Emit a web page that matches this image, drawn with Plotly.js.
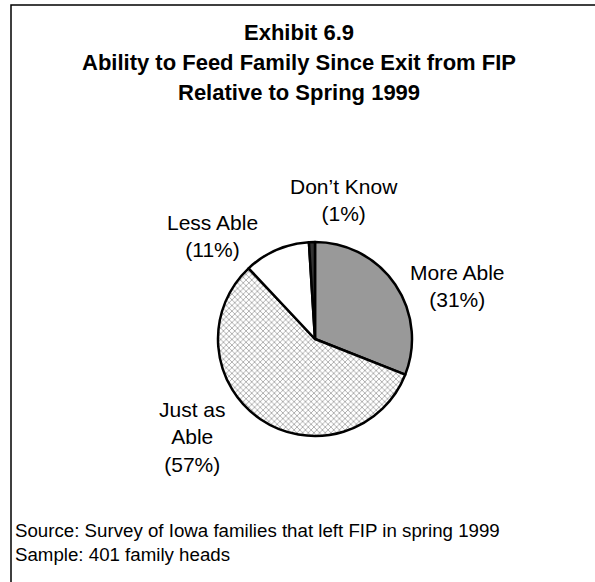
<!DOCTYPE html>
<html>
<head>
<meta charset="utf-8">
<script src="https://cdn.plot.ly/plotly-3.0.1.min.js"></script>
<style>
  html, body { margin: 0; padding: 0; background: #fff; }
  #chart { width: 595px; height: 582px; }
</style>
</head>
<body>
<div id="chart"></div>
<script>
// Slices, clockwise from 12 o'clock
const categories = ["More Able", "Just as Able", "Less Able", "Don\u2019t Know"];
const shares = [31, 57, 11, 1];
// Label text for each slice (line breaks as drawn beside the pie)
const labelLines = [["More Able"], ["Just as", "Able"], ["Less Able"], ["Don\u2019t Know"]];

const titleLines = [
  "Exhibit 6.9",
  "Ability to Feed Family Since Exit from FIP",
  "Relative to Spring 1999"
];
const noteLines = [
  "Source: Survey of Iowa families that left FIP in spring 1999",
  "Sample: 401 family heads"
];

const W = 595, H = 582;
const px = x => x / W;
const py = y => 1 - y / H;
const FONT = "Liberation Sans, Arial, sans-serif";

// Pie geometry (pixels)
const cx = 315, cy = 339, r = 97;

// Label anchor positions (pixels, centre of text block)
const labelPos = [
  { x: 457, y: 286 },
  { x: 192, y: 437 },
  { x: 212, y: 236 },
  { x: 344, y: 200 }
];

const pie = {
  type: "pie",
  labels: categories,
  values: shares,
  sort: false,
  direction: "clockwise",
  rotation: 0,
  textinfo: "none",
  hoverinfo: "label+percent",
  domain: { x: [px(cx - r), px(cx + r)], y: [py(cy + r), py(cy - r)] },
  marker: {
    colors: ["#999999", "#ffffff", "#ffffff", "#333333"],
    line: { color: "#000000", width: 2.5 },
    pattern: {
      shape: ["", "x", "", ""],
      fgcolor: "#707070",
      bgcolor: "#ffffff",
      size: 4,
      solidity: 0.25
    }
  },
  showlegend: false
};

const annotations = [];

// Title block, one line per annotation
titleLines.forEach((t, i) => annotations.push({
  xref: "paper", yref: "paper",
  x: px(299), y: py(32 + i * 30.5),
  xanchor: "center", yanchor: "middle",
  showarrow: false,
  text: "<b>" + t + "</b>",
  font: { family: FONT, size: 22, color: "#000" }
}));

// Slice labels
categories.forEach((c, i) => annotations.push({
  xref: "paper", yref: "paper",
  x: px(labelPos[i].x), y: py(labelPos[i].y),
  xanchor: "center", yanchor: "middle",
  showarrow: false, align: "center",
  text: labelLines[i].concat(["(" + shares[i] + "%)"]).join("<br>"),
  font: { family: FONT, size: 21, color: "#000" }
}));

// Source notes
noteLines.forEach((t, i) => annotations.push({
  xref: "paper", yref: "paper",
  x: px(13), y: py(530 + i * 24),
  xanchor: "left", yanchor: "middle",
  showarrow: false, align: "left",
  text: t,
  font: { family: FONT, size: 18.7, color: "#000" }
}));

const layout = {
  width: W, height: H,
  margin: { l: 0, r: 0, t: 0, b: 0 },
  paper_bgcolor: "#ffffff",
  plot_bgcolor: "#ffffff",
  annotations: annotations,
  shapes: [{
    type: "rect", xref: "paper", yref: "paper",
    x0: px(11), x1: 1.05, y0: -0.05, y1: py(5),
    line: { color: "#000", width: 1.5 },
    fillcolor: "rgba(0,0,0,0)",
    layer: "below"
  }]
};

Plotly.newPlot("chart", [pie], layout, { staticPlot: true, displayModeBar: false });
</script>
</body>
</html>
